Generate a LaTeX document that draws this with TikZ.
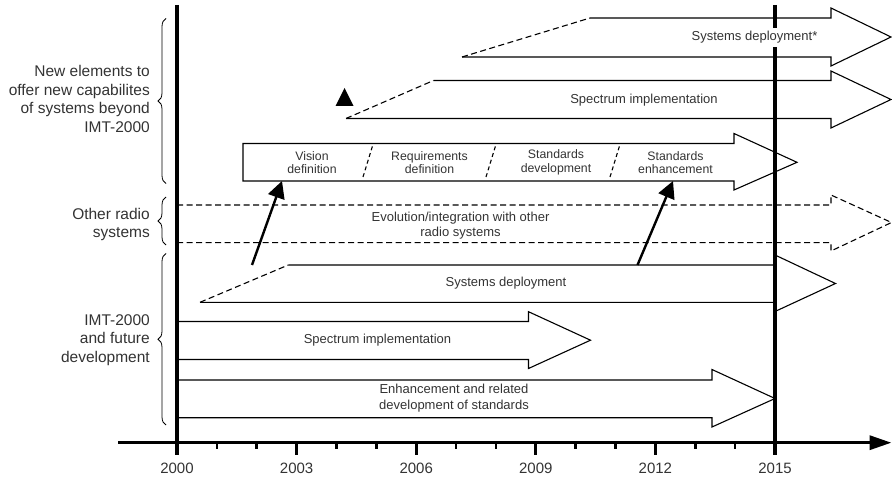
\documentclass[tikz,border=0pt]{standalone}
\usepackage{fontspec}
\setmainfont{Liberation Sans}
\usetikzlibrary{decorations.pathreplacing,arrows.meta}

\tikzset{
  outline/.style={draw=black, line width=1.1pt, line join=miter},
  dashline/.style={outline, dash pattern=on 6pt off 3.5pt},
  sepline/.style={draw=black, line width=1.1pt, dash pattern=on 4pt off 3pt},
  lbl/.style={text=black!80, font=\fontsize{13}{16}\selectfont, align=center, inner sep=0pt},
  boxlbl/.style={text=black!80, font=\fontsize{12.3}{13.6}\selectfont, align=center, inner sep=0pt},
  side/.style={text=black!80, font=\fontsize{15.5}{18.8}\selectfont, align=right, anchor=east, inner sep=0pt},
  year/.style={text=black!80, font=\fontsize{15}{18}\selectfont, inner sep=0pt},
  timeline/.style={draw=black, line width=3.2pt},
  pointer/.style={draw=black, line width=2.4pt, -{Triangle[length=17pt,width=17pt]}},
  sidebrace/.style={draw=black, line width=0.8pt, decorate, decoration={brace, amplitude=8pt, aspect=0.5}},
}

\begin{document}
\begin{tikzpicture}[x=1pt, y=-1pt]
\useasboundingbox (0,0) rectangle (892,481);

% Systems deployment* (beyond IMT-2000)
\draw[dashline] (462,57) -- (590,18);
\draw[outline] (590,18) -- (831,18) -- (831,8) -- (891,37) -- (831,66) -- (831,57) -- (462,57);

% Spectrum implementation (beyond IMT-2000)
\draw[dashline] (346,118.5) -- (433.5,80.5);
\draw[outline] (433.5,80.5) -- (831,80.5) -- (831,71) -- (891,99.5) -- (831,128) -- (831,118.5) -- (346,118.5);
\fill[black] (344.5,88) -- (353.5,106) -- (335.5,106) -- cycle;

% Phases of standardisation
\draw[outline] (243,143.5) -- (734,143.5) -- (734,133.5) -- (797,162.3) -- (734,190) -- (734,181) -- (243,181) -- cycle;
\draw[sepline] (363,177) -- (372.5,146);
\draw[sepline] (486,177) -- (495.5,146);
\draw[sepline] (610,177) -- (619.5,146);

% Evolution/integration with other radio systems
\draw[dashline] (177,205) -- (831,205) -- (831,195) -- (891.5,222.5) -- (831,251) -- (831,242.7) -- (177,242.7);

% Systems deployment (IMT-2000)
\draw[dashline] (200,302.3) -- (288.3,265);
\draw[outline] (288.3,265) -- (775,265) -- (775,255) -- (835.5,283.5) -- (775,311.5) -- (775,302.3) -- (200,302.3);

% Spectrum implementation (IMT-2000)
\draw[outline] (177,321.5) -- (528.5,321.5) -- (528.5,311.7) -- (590.5,340.2) -- (528.5,368.5) -- (528.5,359.5) -- (177,359.5);

% Enhancement and related development of standards
\draw[outline] (177,380) -- (712,380) -- (712,369.5) -- (775,398.5) -- (712,427) -- (712,417.7) -- (177,417.7);

% Time axis with year ticks
\draw[draw=black, line width=3.4pt, -{Triangle[length=22pt,width=14pt]}] (118,442.7) -- (891.5,442.7);
\foreach \yr in {1,2,4,5,7,8,10,11,13,14}
  \draw[draw=black, line width=2.6pt] ({177+39.867*\yr},442.7) -- ({177+39.867*\yr},448.5);
\foreach \yr/\lab in {0/2000,3/2003,6/2006,9/2009,12/2012,15/2015} {
  \draw[draw=black, line width=3pt] ({177+39.867*\yr},442.7) -- ({177+39.867*\yr},455);
  \node[year] (y\lab) at ({177+39.867*\yr},468.5) {\lab};
}

% Milestone lines for 2000 and 2015
\coordinate (l2000top) at (177,5);
\coordinate (l2000bot) at (177,455);
\coordinate (l2015top) at (775,5);
\coordinate (l2015bot) at (775,455);
\draw[timeline] (l2000top) -- (l2000bot);
\draw[timeline] (l2015top) -- (l2015bot);

% Arrow labels
\node[lbl, fill=white, inner xsep=2pt, inner ysep=3pt] (sdstar) at (754.5,37.5) {Systems deployment*};
\node[lbl] (spectop) at (644,100) {Spectrum implementation};
\node[boxlbl] (vision) at (312,162.5) {Vision\\definition};
\node[boxlbl] (require) at (429.5,162.5) {Requirements\\definition};
\node[boxlbl] (stddev) at (556,162.5) {Standards\\development};
\node[boxlbl] (stdenh) at (675.5,162.5) {Standards\\enhancement};
\node[lbl, font=\fontsize{13}{14.7}\selectfont] (evol) at (460.5,225.5) {Evolution/integration with other\\radio systems};
\node[lbl] (sdimt) at (506,283.5) {Systems deployment};
\node[lbl] (specimt) at (377.5,340) {Spectrum implementation};
\node[lbl] (enh) at (454,398) {Enhancement and related\\development of standards};

% Links from IMT-2000 deployment to the new phases
\coordinate (visiontail) at (252,265);
\coordinate (visiontip) at (282,181);
\coordinate (enhtail) at (637.5,265);
\coordinate (enhtip) at (673,181);
\draw[pointer] (visiontail) -- (visiontip);
\draw[pointer] (enhtail) -- (enhtip);

% Group braces and captions
\draw[sidebrace] (166,183.5) -- (166,18.5);
\draw[sidebrace] (166,245) -- (166,197);
\draw[sidebrace] (166,425) -- (166,253.5);
\node[side] (grpnew) at (150,99) {New elements to\\offer new capabilites\\of systems beyond\\IMT-2000};
\node[side] (grpother) at (150,224.5) {Other radio\\systems};
\node[side] (grpimt) at (150,340) {IMT-2000\\and future\\development};
\end{tikzpicture}
\end{document}
